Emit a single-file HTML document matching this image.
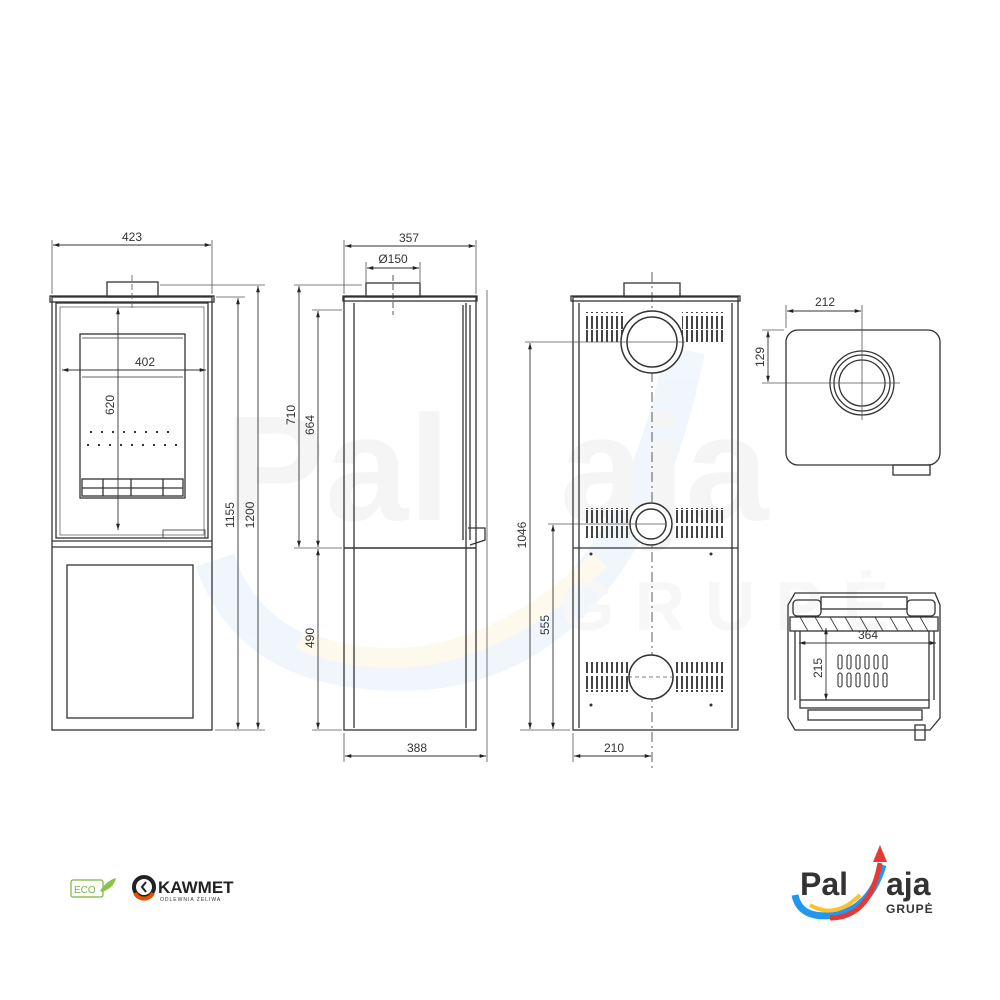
<!DOCTYPE html>
<html><head><meta charset="utf-8"><style>
html,body{margin:0;padding:0;background:#fff;}
svg{display:block;}
text{font-family:"Liberation Sans",sans-serif;fill:#333;}
</style></head><body>
<svg width="1000" height="1000" viewBox="0 0 1000 1000" xmlns="http://www.w3.org/2000/svg">
<defs>
<marker id="a" viewBox="0 0 10 10" refX="10" refY="5" markerWidth="7" markerHeight="7" orient="auto-start-reverse"><path d="M0,2 L10,5 L0,8z" fill="#222"/></marker>
<pattern id="vent" width="5" height="30" patternUnits="userSpaceOnUse"><rect x="1" y="0" width="2" height="13" fill="#444"/><rect x="1" y="16" width="2" height="13" fill="#444"/></pattern>
</defs>
<!-- watermark -->
<g opacity="0.5">
<path d="M215 560 q40 120 210 110 q200 -20 260 -320" fill="none" stroke="#e3effa" stroke-width="40"/>
<path d="M300 640 q150 60 300 -80" fill="none" stroke="#fdf6dc" stroke-width="20"/>
<text x="225" y="520" font-size="150" font-weight="bold" style="fill:#ededed">Pal</text>
<text x="560" y="520" font-size="150" font-weight="bold" style="fill:#ededed">aja</text>
<text x="560" y="630" font-size="70" font-weight="bold" letter-spacing="20" style="fill:#f0f0f0">GRUPĖ</text>
</g>
<g fill="none" stroke="#333" stroke-width="1.3">
<!-- FRONT VIEW -->
<rect x="52" y="297" width="160" height="433"/>
<rect x="50" y="296" width="164" height="6"/>
<rect x="107" y="282" width="51" height="15"/>
<rect x="56" y="303" width="152" height="235"/>
<rect x="60" y="307" width="144" height="228" stroke-width="0.6"/>
<rect x="80" y="334" width="105" height="164"/>
<line x1="82" y1="338" x2="183" y2="338" stroke-width="0.8"/>
<line x1="82" y1="377" x2="183" y2="377" stroke-width="0.8"/>
<rect x="82" y="479" width="101" height="17"/>
<line x1="82" y1="488" x2="183" y2="488"/>
<line x1="103" y1="479" x2="103" y2="496"/><line x1="131" y1="479" x2="131" y2="496"/><line x1="163" y1="479" x2="163" y2="496"/>
<rect x="163" y="530" width="42" height="8" stroke-width="0.8"/>
<line x1="52" y1="541" x2="212" y2="541"/>
<line x1="52" y1="547" x2="212" y2="547"/>
<rect x="67" y="565" width="126" height="153"/>
<line x1="90" y1="432" x2="172" y2="432" stroke-dasharray="2,9" stroke-width="2"/>
<line x1="87" y1="445" x2="178" y2="445" stroke-dasharray="2,9" stroke-width="2"/>
<!-- dims front -->
<g stroke="#555" stroke-width="0.8">
<line x1="52" y1="240" x2="52" y2="294"/><line x1="212" y1="240" x2="212" y2="294"/>
<line x1="160" y1="285" x2="265" y2="285"/><line x1="216" y1="297" x2="245" y2="297"/>
<line x1="215" y1="730" x2="265" y2="730"/>
<line x1="132" y1="275" x2="132" y2="310" stroke-dasharray="6,3"/>
</g>
<line x1="53" y1="245" x2="211" y2="245" stroke-width="0.9" marker-start="url(#a)" marker-end="url(#a)"/>
<line x1="62" y1="370" x2="206" y2="370" stroke-width="0.9" marker-start="url(#a)" marker-end="url(#a)"/>
<line x1="118" y1="308" x2="118" y2="530" stroke-width="0.9" marker-start="url(#a)" marker-end="url(#a)"/>
<line x1="238" y1="298" x2="238" y2="729" stroke-width="0.9" marker-start="url(#a)" marker-end="url(#a)"/>
<line x1="258" y1="286" x2="258" y2="729" stroke-width="0.9" marker-start="url(#a)" marker-end="url(#a)"/>

<!-- SIDE VIEW -->
<rect x="344" y="297" width="132" height="433"/>
<rect x="343" y="296" width="134" height="5"/>
<rect x="366" y="283" width="54" height="14"/>
<line x1="354" y1="303" x2="354" y2="728"/>
<line x1="466" y1="303" x2="466" y2="728"/>
<line x1="463" y1="305" x2="463" y2="540"/><line x1="470" y1="305" x2="470" y2="540"/>
<path d="M468 528 L485 528 L485 540 L470 545"/>
<line x1="344" y1="548" x2="476" y2="548" stroke-width="1.6"/>
<line x1="393" y1="275" x2="393" y2="315" stroke-dasharray="6,3" stroke-width="0.8"/>
<g stroke="#555" stroke-width="0.8">
<line x1="344" y1="240" x2="344" y2="294"/><line x1="476" y1="240" x2="476" y2="294"/>
<line x1="366" y1="262" x2="366" y2="282"/><line x1="420" y1="262" x2="420" y2="282"/>
<line x1="294" y1="285" x2="362" y2="285"/><line x1="312" y1="310" x2="342" y2="310"/>
<line x1="294" y1="548" x2="342" y2="548"/><line x1="312" y1="730" x2="342" y2="730"/>
<line x1="344" y1="733" x2="344" y2="762"/><line x1="487" y1="290" x2="487" y2="762"/>
</g>
<line x1="345" y1="246" x2="475" y2="246" stroke-width="0.9" marker-start="url(#a)" marker-end="url(#a)"/>
<line x1="367" y1="268" x2="419" y2="268" stroke-width="0.9" marker-start="url(#a)" marker-end="url(#a)"/>
<line x1="299" y1="286" x2="299" y2="547" stroke-width="0.9" marker-start="url(#a)" marker-end="url(#a)"/>
<line x1="318" y1="311" x2="318" y2="547" stroke-width="0.9" marker-start="url(#a)" marker-end="url(#a)"/>
<line x1="318" y1="549" x2="318" y2="729" stroke-width="0.9" marker-start="url(#a)" marker-end="url(#a)"/>
<line x1="345" y1="756" x2="486" y2="756" stroke-width="0.9" marker-start="url(#a)" marker-end="url(#a)"/>

<!-- BACK VIEW -->
<rect x="573" y="297" width="165" height="433"/>
<rect x="571" y="296" width="169" height="5"/>
<rect x="624" y="283" width="56" height="14"/>
<line x1="579" y1="303" x2="579" y2="728"/><line x1="732" y1="303" x2="732" y2="728"/>
<line x1="573" y1="548" x2="738" y2="548"/>
<line x1="652" y1="272" x2="652" y2="770" stroke-dasharray="10,4,2,4" stroke-width="0.8"/>
</g>
<rect x="584" y="312" width="40" height="30" fill="url(#vent)"/>
<rect x="682" y="312" width="42" height="30" fill="url(#vent)"/>
<rect x="584" y="508" width="45" height="30" fill="url(#vent)"/>
<rect x="676" y="508" width="48" height="30" fill="url(#vent)"/>
<rect x="584" y="662" width="45" height="30" fill="url(#vent)"/>
<rect x="676" y="662" width="48" height="30" fill="url(#vent)"/>
<g fill="#fff" stroke="#333" stroke-width="1.5">
<circle cx="652" cy="342" r="31"/><circle cx="652" cy="342" r="25"/>
<circle cx="651" cy="524" r="21"/><circle cx="651" cy="524" r="15"/>
<circle cx="651" cy="677" r="22"/>
</g>
<g fill="none" stroke="#555" stroke-width="0.8">
<line x1="525" y1="342" x2="685" y2="342"/><line x1="548" y1="524" x2="665" y2="524"/>
<line x1="520" y1="730" x2="570" y2="730"/>
<line x1="573" y1="733" x2="573" y2="762"/>
<line x1="628" y1="677" x2="675" y2="677" stroke-dasharray="4,3"/>
</g>
<line x1="530" y1="343" x2="530" y2="729" stroke="#333" stroke-width="0.9" marker-start="url(#a)" marker-end="url(#a)"/>
<line x1="553" y1="525" x2="553" y2="729" stroke="#333" stroke-width="0.9" marker-start="url(#a)" marker-end="url(#a)"/>
<line x1="574" y1="756" x2="651" y2="756" stroke="#333" stroke-width="0.9" marker-start="url(#a)" marker-end="url(#a)"/>
<g fill="#333"><circle cx="591" cy="554" r="1.5"/><circle cx="711" cy="554" r="1.5"/><circle cx="591" cy="705" r="1.5"/><circle cx="711" cy="705" r="1.5"/></g>

<!-- TOP VIEW -->
<g fill="none" stroke="#333" stroke-width="1.3">
<rect x="786" y="330" width="154" height="135" rx="12"/>
<circle cx="862" cy="383" r="32"/><circle cx="862" cy="383" r="28"/><circle cx="862" cy="383" r="23"/>
<rect x="893" y="465" width="37" height="10"/>
<g stroke="#555" stroke-width="0.8">
<line x1="786" y1="305" x2="786" y2="328"/><line x1="862" y1="305" x2="862" y2="420"/>
<line x1="762" y1="330" x2="784" y2="330"/><line x1="762" y1="383" x2="900" y2="383"/>
</g>
</g>
<line x1="787" y1="311" x2="861" y2="311" stroke="#333" stroke-width="0.9" marker-start="url(#a)" marker-end="url(#a)"/>
<line x1="768" y1="331" x2="768" y2="382" stroke="#333" stroke-width="0.9" marker-start="url(#a)" marker-end="url(#a)"/>

<!-- SECTION VIEW -->
<g fill="none" stroke="#333" stroke-width="1.3">
<path d="M795 593 L935 593 L940 605 L940 718 L930 730 L795 730 L788 718 L788 605 Z"/>
<rect x="793" y="600" width="28" height="16" rx="4"/><rect x="907" y="600" width="28" height="16" rx="4"/>
<rect x="821" y="597" width="86" height="12"/>
<rect x="790" y="617" width="148" height="14"/>
<path d="M800 617 l8 14 M815 617 l8 14 M830 617 l8 14 M845 617 l8 14 M860 617 l8 14 M875 617 l8 14 M890 617 l8 14 M905 617 l8 14 M920 617 l8 14" stroke-width="0.8"/>
<line x1="795" y1="631" x2="795" y2="700"/><line x1="800" y1="631" x2="800" y2="700"/>
<line x1="929" y1="631" x2="929" y2="700"/><line x1="934" y1="631" x2="934" y2="700"/>
<rect x="800" y="700" width="129" height="8"/>
<rect x="808" y="710" width="114" height="10"/>
<rect x="915" y="725" width="10" height="15"/>
<g stroke-width="1.1">
<rect x="838" y="655" width="4" height="14" rx="2"/><rect x="847" y="655" width="4" height="14" rx="2"/><rect x="856" y="655" width="4" height="14" rx="2"/><rect x="865" y="655" width="4" height="14" rx="2"/><rect x="874" y="655" width="4" height="14" rx="2"/><rect x="883" y="655" width="4" height="14" rx="2"/>
<rect x="838" y="673" width="4" height="14" rx="2"/><rect x="847" y="673" width="4" height="14" rx="2"/><rect x="856" y="673" width="4" height="14" rx="2"/><rect x="865" y="673" width="4" height="14" rx="2"/><rect x="874" y="673" width="4" height="14" rx="2"/><rect x="883" y="673" width="4" height="14" rx="2"/>
</g>
</g>
<line x1="799" y1="643" x2="936" y2="643" stroke="#333" stroke-width="0.9" marker-start="url(#a)" marker-end="url(#a)"/>
<line x1="826" y1="628" x2="826" y2="700" stroke="#333" stroke-width="0.9" marker-start="url(#a)" marker-end="url(#a)"/>

<!-- TEXT -->
<g font-size="12">
<text x="132" y="241" text-anchor="middle">423</text>
<text x="145" y="366" text-anchor="middle">402</text>
<text transform="translate(114,405) rotate(-90)" text-anchor="middle">620</text>
<text transform="translate(234,515) rotate(-90)" text-anchor="middle">1155</text>
<text transform="translate(254,515) rotate(-90)" text-anchor="middle">1200</text>
<text x="409" y="242" text-anchor="middle">357</text>
<text x="393" y="263" text-anchor="middle">Ø150</text>
<text transform="translate(295,415) rotate(-90)" text-anchor="middle">710</text>
<text transform="translate(314,425) rotate(-90)" text-anchor="middle">664</text>
<text transform="translate(314,638) rotate(-90)" text-anchor="middle">490</text>
<text x="417" y="752" text-anchor="middle">388</text>
<text transform="translate(526,535) rotate(-90)" text-anchor="middle">1046</text>
<text transform="translate(549,625) rotate(-90)" text-anchor="middle">555</text>
<text x="614" y="752" text-anchor="middle">210</text>
<text x="825" y="306" text-anchor="middle">212</text>
<text transform="translate(764,357) rotate(-90)" text-anchor="middle">129</text>
<text x="868" y="639" text-anchor="middle">364</text>
<text transform="translate(822,668) rotate(-90)" text-anchor="middle">215</text>
</g>

<!-- LOGOS -->
<rect x="71" y="880" width="32" height="17" rx="2" fill="none" stroke="#7cb342" stroke-width="1.2"/>
<text x="74" y="893" font-size="10" style="fill:#7cb342">ECO</text>
<path d="M100 891 q6 -10 16 -13 q-2 10 -14 14z" fill="#8bc34a"/>
<circle cx="144" cy="887" r="10" fill="none" stroke="#222" stroke-width="4"/>
<path d="M135 893 a10 10 0 0 0 18 0" fill="none" stroke="#e65100" stroke-width="4"/>
<path d="M146 882 l-4 5 l4 5" fill="none" stroke="#222" stroke-width="2"/>
<text x="158" y="893" font-size="17" font-weight="bold" style="fill:#222">KAWMET</text>
<text x="160" y="901" font-size="5" letter-spacing="1" style="fill:#333">ODLEWNIA ŻELIWA</text>

<path d="M795 895 q5 25 40 20 q35 -6 48 -50" fill="none" stroke="#2196f3" stroke-width="7"/>
<path d="M810 905 q25 15 50 -10" fill="none" stroke="#fbc02d" stroke-width="4"/>
<path d="M830 918 q40 0 50 -55" fill="none" stroke="#e53935" stroke-width="5"/>
<path d="M880 845 l-7 17 l14 0z" fill="#e53935"/>
<text x="800" y="895" font-size="32" font-weight="bold" style="fill:#333">Pal</text>
<text x="886" y="895" font-size="32" font-weight="bold" style="fill:#333">aja</text>
<text x="886" y="913" font-size="12" font-weight="bold" letter-spacing="1" style="fill:#333">GRUPĖ</text>
</svg>
</body></html>
